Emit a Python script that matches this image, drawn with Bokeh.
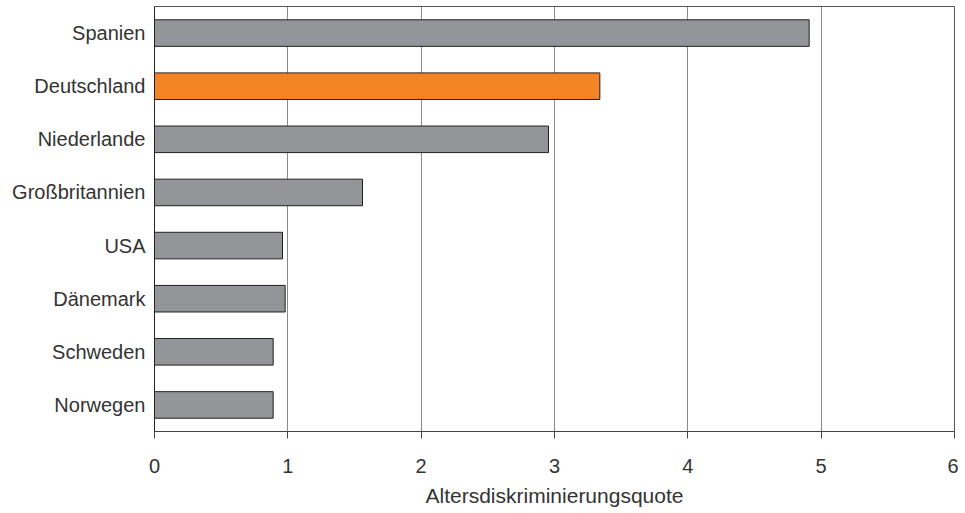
from bokeh.plotting import figure
from bokeh.models import FactorRange, Range1d, ColumnDataSource
from bokeh.embed import file_html
from bokeh.resources import INLINE

countries = ["Spanien", "Deutschland", "Niederlande", "Großbritannien", "USA", "Dänemark", "Schweden", "Norwegen"]
values = [4.91, 3.34, 2.955, 1.56, 0.96, 0.98, 0.89, 0.89]
highlight = "Deutschland"
x_ticks = [0, 1, 2, 3, 4, 5, 6]
x_title = "Altersdiskriminierungsquote"

colors = ["#f58426" if c == highlight else "#939598" for c in countries]
src = ColumnDataSource(dict(country=countries, value=values, color=colors))

FONT = "Liberation Sans"

p = figure(width=958, height=513, output_backend="svg", toolbar_location=None,
           y_range=FactorRange(factors=list(reversed(countries)), range_padding=0),
           x_range=Range1d(0, 6),
           min_border_left=154, min_border_right=4, min_border_top=6, min_border_bottom=82)

p.hbar(y="country", right="value", left=0, height=0.5, fill_color="color",
       line_color="#231f20", line_width=1, source=src)

p.outline_line_color = "#555555"
p.outline_line_width = 1
p.background_fill_color = "white"

p.ygrid.grid_line_color = None
p.xgrid.grid_line_color = "#8a8a8a"
p.xgrid.grid_line_width = 1
p.xgrid.ticker = x_ticks

p.xaxis.ticker = x_ticks
p.xaxis.axis_line_color = "#444444"
p.xaxis.major_tick_line_color = "#444444"
p.xaxis.major_tick_in = 0
p.xaxis.major_tick_out = 7
p.xaxis.minor_tick_line_color = None
p.xaxis.major_label_standoff = 20
p.xaxis.major_label_text_font = FONT
p.xaxis.major_label_text_font_size = "20px"
p.xaxis.major_label_text_color = "#333333"
p.xaxis.axis_label = x_title
p.xaxis.axis_label_text_font = FONT
p.xaxis.axis_label_text_font_size = "21px"
p.xaxis.axis_label_text_font_style = "normal"
p.xaxis.axis_label_text_color = "#333333"
p.xaxis.axis_label_standoff = 8

p.yaxis.axis_line_color = "#222222"
p.yaxis.major_tick_line_color = None
p.yaxis.major_tick_in = 0
p.yaxis.major_tick_out = 0
p.yaxis.minor_tick_line_color = None
p.yaxis.major_label_standoff = 9
p.yaxis.major_label_text_font = FONT
p.yaxis.major_label_text_font_size = "20px"
p.yaxis.major_label_text_color = "#333333"

open("out.html", "w").write(file_html(p, INLINE))
